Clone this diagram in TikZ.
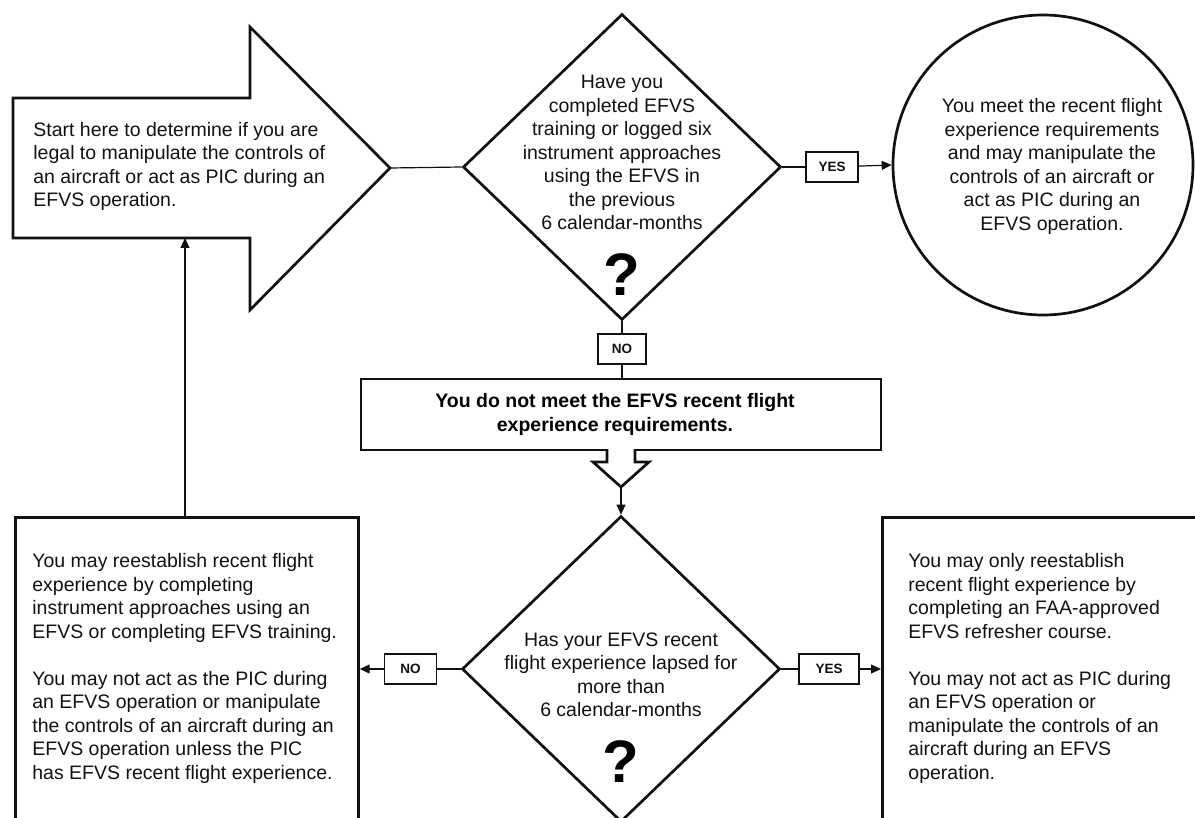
\documentclass[tikz,border=0pt]{standalone}
\usepackage{fontspec}
\setmainfont{Liberation Sans}
\usetikzlibrary{shapes.geometric,arrows.meta}
\definecolor{faaInk}{HTML}{111111}
\tikzset{
  heavy/.style={line width=1.35pt, faaInk},
  wire/.style={line width=0.6pt, faaInk},
  flow/.style={-{Triangle[length=5pt,width=4.5pt]}, wire},
  ask/.style={diamond, draw, heavy, minimum width=159pt, minimum height=153pt, inner sep=0pt},
  tag/.style={draw, wire, fill=white, minimum width=26pt, minimum height=15pt, inner sep=0pt,
    font=\bfseries\fontsize{6.75}{8}\selectfont},
  txt/.style={font=\fontsize{9.75}{11.75}\selectfont, inner sep=0pt, faaInk},
  qmark/.style={font=\bfseries\fontsize{30}{30}\selectfont, inner sep=0pt},
  panel/.style={draw, heavy, inner sep=0pt, anchor=north west},
}

\begin{document}
\begin{tikzpicture}[x=0.5pt, y=-0.5pt]
  \useasboundingbox (0,0) rectangle (1195,818);
  \clip (0,0) rectangle (1195,818);
  % start arrow
  \draw[heavy] (13,98) -- (250,98) -- (250,27) -- (390,168) -- (250,310)
    -- (250,238) -- (13,238) -- cycle;
  \coordinate (starttip) at (390,168);
  \coordinate (startbase) at (185,238);
  \node[txt, anchor=west, align=left] (starttxt) at (33,166.5)
    {Start here to determine if you are\\legal to manipulate the controls of\\an aircraft or act as PIC during an\\EFVS operation.};

  % first question
  \node[ask] (ask1) at (622,167) {};
  \node[txt, align=center] (ask1txt) at (622,152.5)
    {Have you\\completed EFVS\\training or logged six\\instrument approaches\\using the EFVS in\\the previous\\6 calendar-months};
  \node[qmark] (ask1q) at (622,275) {?};
  \node[tag] (yes1) at (832,167) {YES};
  \node[circle, draw, heavy, minimum size=150pt, inner sep=0pt] (meet) at (1043,165) {};
  \node[txt, align=center] (meettxt) at (1052,166.5)
    {You meet the recent flight\\experience requirements\\and may manipulate the\\controls of an aircraft or\\act as PIC during an\\EFVS operation.};
  \node[tag, minimum width=24pt] (no1) at (622,349) {NO};

  \node[draw, heavy, minimum width=260pt, minimum height=35.5pt, inner sep=0pt] (lack) at (621,414.5) {};
  \node[align=center, inner sep=0pt, font=\bfseries\fontsize{9.75}{12}\selectfont] (lacktxt) at (615,414)
    {You do not meet the EFVS recent flight\\experience requirements.};
  \fill[white] (607,447) -- (607,462) -- (593,462) -- (621,487) -- (649,462) -- (635,462) -- (635,447) -- cycle;
  \draw[heavy] (607,449) -- (607,462) -- (593,462) -- (621,487) -- (649,462) -- (635,462) -- (635,449);
  \coordinate (lacktip) at (621,487);

  % second question
  \node[ask] (ask2) at (621,669) {};
  \node[txt, align=center] (ask2txt) at (621,675)
    {Has your EFVS recent\\flight experience lapsed for\\more than\\6 calendar-months};
  \node[qmark] (ask2q) at (621,762) {?};
  \node[tag] (no2) at (410.5,669) {NO};
  \node[tag, minimum width=30pt] (yes2) at (829,669) {YES};

  \node[panel, minimum width=171.5pt, minimum height=165pt] (redo) at (14,516) {};
  \node[txt, anchor=west, align=left] (redotxt) at (32,668.5)
    {You may reestablish recent flight\\experience by completing\\instrument approaches using an\\EFVS or completing EFVS training.\\[11.75pt]You may not act as the PIC during\\an EFVS operation or manipulate\\the controls of an aircraft during an\\EFVS operation unless the PIC\\has EFVS recent flight experience.};
  \node[panel, minimum width=170pt, minimum height=165pt] (course) at (881,516) {};
  \node[txt, anchor=west, align=left] (coursetxt) at (908,668.5)
    {You may only reestablish\\recent flight experience by\\completing an FAA-approved\\EFVS refresher course.\\[11.75pt]You may not act as PIC during\\an EFVS operation or\\manipulate the controls of an\\aircraft during an EFVS\\operation.};

  \draw[wire] (starttip) -- (ask1.west);
  \draw[wire] (ask1.east) -- (yes1);
  \draw[flow] (yes1) -- (meet.west);
  \draw[wire] (ask1.south) -- (no1);
  \draw[wire] (no1) -- (lack.north -| no1);
  \draw[flow] (lacktip) -- (ask2.north);
  \draw[wire] (ask2.west) -- (no2);
  \draw[flow] (no2) -- (no2 -| redo.east);
  \draw[wire] (ask2.east) -- (yes2);
  \draw[flow] (yes2) -- (yes2 -| course.west);
  \draw[flow] (startbase |- redo.north) -- (startbase);
\end{tikzpicture}
\end{document}
